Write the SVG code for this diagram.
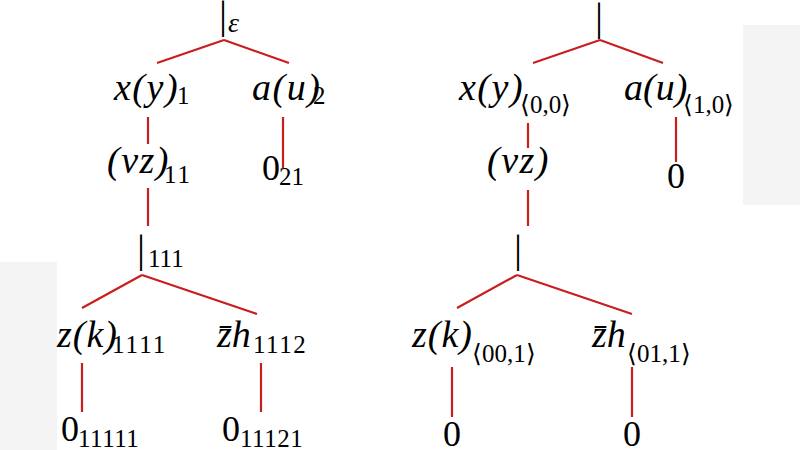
<svg xmlns="http://www.w3.org/2000/svg" width="800" height="450" viewBox="0 0 800 450">
<style>
.edge{stroke:#c81e1e;stroke-width:2.2;fill:none}
.shade{fill:#f4f4f4}
</style>
<rect width="800" height="450" fill="#ffffff"/>
<rect class="shade" x="0" y="262" width="57" height="188"/>
<rect class="shade" x="743" y="25" width="57" height="180"/>
<g id="connectors">
<path class="edge" d="M224,40L157,63M224,40L289,63"/>
<path class="edge" d="M148,117L148,144"/>
<path class="edge" d="M283,117L283,168"/>
<path class="edge" d="M148,188L148,226"/>
<path class="edge" d="M142,275L82,308M142,275L257,314"/>
<path class="edge" d="M82,363L82,412"/>
<path class="edge" d="M261,363L261,412"/>
<path class="edge" d="M600,40L533,63M600,40L663,63"/>
<path class="edge" d="M528,123L528,148"/>
<path class="edge" d="M676,117L676,162"/>
<path class="edge" d="M528,190L528,226"/>
<path class="edge" d="M517,275L457,308M517,275L632,314"/>
<path class="edge" d="M452,367L452,417"/>
<path class="edge" d="M632,367L632,417"/>
</g>
<g id="L-root"><text x="219" y="28" font-size="40" font-family="'Liberation Serif'">|</text><text x="228" y="32" font-size="28" font-family="'Liberation Serif'" font-style="italic">ε</text></g>
<g id="L-xy"><text x="114" y="100" font-size="38" font-family="'Liberation Serif'" font-style="italic" letter-spacing="1.5">x(y)</text><text x="177" y="104" font-size="25" font-family="'Liberation Serif'">1</text></g>
<g id="L-au"><text x="252" y="100" font-size="38" font-family="'Liberation Serif'" font-style="italic" letter-spacing="1.5">a(u)</text><text x="313" y="104" font-size="25" font-family="'Liberation Serif'">2</text></g>
<g id="L-nz"><text x="107" y="173" font-size="38" font-family="'Liberation Serif'" font-style="italic" letter-spacing="1.5">(νz)</text><text x="164" y="183" font-size="25" font-family="'Liberation Serif'" letter-spacing="2">11</text></g>
<g id="L-0a"><text x="262" y="180" font-size="36" font-family="'Liberation Serif'">0</text><text x="279" y="185" font-size="25" font-family="'Liberation Serif'">21</text></g>
<g id="L-par"><text x="137" y="262" font-size="40" font-family="'Liberation Serif'">|</text><text x="148" y="267" font-size="25" font-family="'Liberation Serif'">111</text></g>
<g id="L-zk"><text x="57" y="347" font-size="38" font-family="'Liberation Serif'" font-style="italic" letter-spacing="1">z(k)</text><text x="112" y="353" font-size="25" font-family="'Liberation Serif'" letter-spacing="2">1111</text></g>
<g id="L-zh"><text x="217" y="347" font-size="38" font-family="'Liberation Serif'" font-style="italic">z̄h</text><text x="253" y="353" font-size="25" font-family="'Liberation Serif'" letter-spacing="1.5">1112</text></g>
<g id="L-0b"><text x="61" y="441" font-size="36" font-family="'Liberation Serif'">0</text><text x="78" y="447" font-size="25" font-family="'Liberation Serif'" letter-spacing="0.5">11111</text></g>
<g id="L-0c"><text x="222" y="441" font-size="36" font-family="'Liberation Serif'">0</text><text x="240" y="447" font-size="25" font-family="'Liberation Serif'" letter-spacing="0.5">11121</text></g>
<g id="R-root"><text x="595" y="30" font-size="40" font-family="'Liberation Serif'">|</text></g>
<g id="R-xy"><text x="459" y="100" font-size="38" font-family="'Liberation Serif'" font-style="italic" letter-spacing="1.5">x(y)</text><text x="520" y="113" font-size="25" font-family="'Liberation Serif'">⟨0,0⟩</text></g>
<g id="R-au"><text x="624" y="100" font-size="38" font-family="'Liberation Serif'" font-style="italic">a(u)</text><text x="683" y="113" font-size="25" font-family="'Liberation Serif'">⟨1,0⟩</text></g>
<g id="R-nz"><text x="487" y="173" font-size="38" font-family="'Liberation Serif'" font-style="italic" letter-spacing="1.5">(νz)</text></g>
<g id="R-0a"><text x="667" y="188" font-size="36" font-family="'Liberation Serif'">0</text></g>
<g id="R-par"><text x="514" y="262" font-size="40" font-family="'Liberation Serif'">|</text></g>
<g id="R-zk"><text x="412" y="347" font-size="38" font-family="'Liberation Serif'" font-style="italic" letter-spacing="1">z(k)</text><text x="472" y="362" font-size="25" font-family="'Liberation Serif'">⟨00,1⟩</text></g>
<g id="R-zh"><text x="592" y="347" font-size="38" font-family="'Liberation Serif'" font-style="italic">z̄h</text><text x="627" y="362" font-size="25" font-family="'Liberation Serif'">⟨01,1⟩</text></g>
<g id="R-0b"><text x="443" y="446" font-size="36" font-family="'Liberation Serif'">0</text></g>
<g id="R-0c"><text x="623" y="446" font-size="36" font-family="'Liberation Serif'">0</text></g>
</svg>
